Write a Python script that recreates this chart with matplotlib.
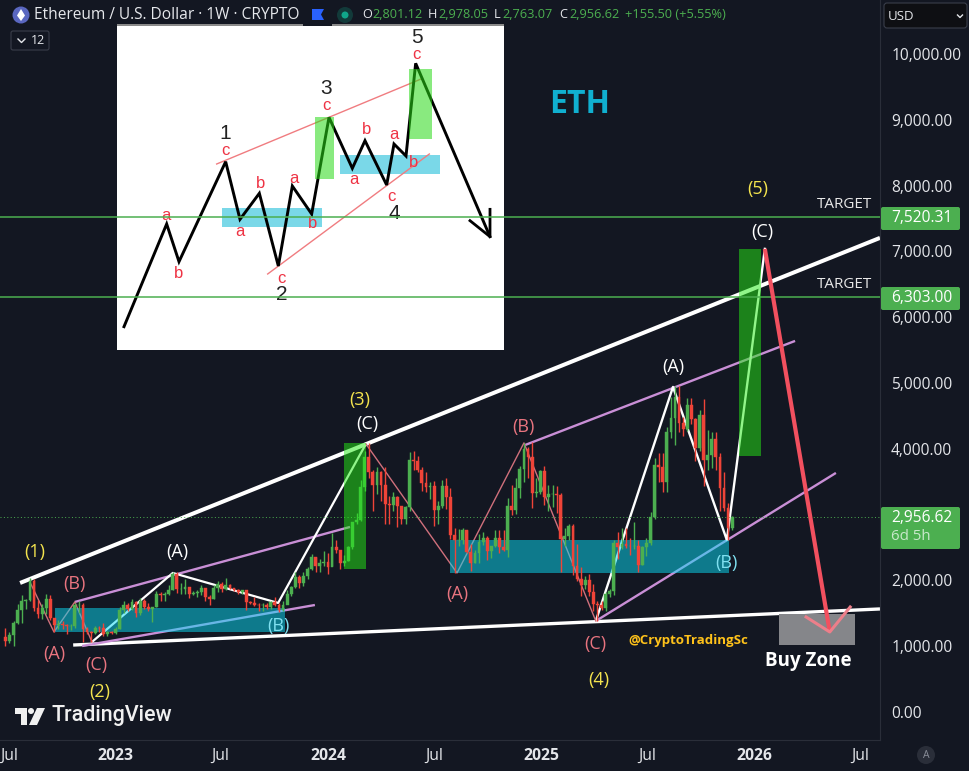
import matplotlib
matplotlib.use('Agg')
import matplotlib.pyplot as plt
from matplotlib.patches import Rectangle, Circle, FancyBboxPatch, Polygon
import pandas as pd

plt.rcParams['font.family'] = ['Open Sans', 'DejaVu Sans']

BG = '#131722'
GREEN = '#4caf50'
RED = '#ef4438'
PINK = '#d0707c'
LILAC = '#c98fd6'
YELLOW = '#f4e44e'
CYAN = '#7fe0f0'
AXIS_TEXT = '#e4e6ea'

# weekly candles, starting week of 2022-06-27 (open = previous close)
first_open = 1143
closes = [
    # 2022
    1075, 1165, 1355, 1550, 1680, 1700, 1985, 1575, 1490, 1575, 1715, 1435, 1315, 1330,
    1320, 1300, 1310, 1620, 1630, 1260, 1215, 1205, 1280, 1275, 1185, 1215, 1200,
    # 2023
    1265, 1550, 1630, 1570, 1665, 1510, 1690, 1590, 1565, 1590, 1800, 1775, 1795,
    1860, 2100, 1865, 1875, 1900, 1800, 1805, 1830, 1890, 1750, 1720, 1880, 1950,
    1865, 1935, 1890, 1855, 1825, 1850, 1670, 1650, 1630, 1620, 1620, 1590, 1670,
    1630, 1555, 1630, 1800, 1900, 2050, 1960, 2065, 2170, 2350, 2220, 2270, 2280,
    # 2024
    2210, 2500, 2455, 2260, 2290, 2500, 2880, 2920, 3420, 3880, 3640, 3455, 3645,
    3450, 3160, 3145, 3260, 3130, 2930, 3120, 3825, 3815, 3675, 3480, 3420, 3430,
    3070, 3130, 3440, 3270, 2690, 2610, 2610, 2760, 2430, 2270, 2420, 2580, 2650, 2440,
    2520, 2645, 2500, 2460, 3125, 3075, 3400, 3700, 3990, 3870, 3330, 3350, 3660,
    # 2025
    3270, 3310, 3320, 3300, 2630, 2670, 2820, 2215, 2020, 1935, 2005, 1820, 1640,
    1620, 1580, 1790, 1835, 2575, 2500, 2550, 2530, 2520, 2530, 2230, 2500, 2570,
    2970, 3750, 3720, 3490, 4260, 4470, 4780, 4390, 4300, 4670, 4450, 4010, 4510,
    3830, 3900, 4150, 3870, 3400, 3100, 2801.12, 2956.62,
]
highs = [
    1280, 1220, 1380, 1640, 1785, 1720, 2030, 2020, 1700, 1640, 1790, 1780, 1400, 1400,
    1380, 1340, 1340, 1660, 1680, 1660, 1290, 1230, 1300, 1300, 1350, 1225, 1230,
    1290, 1590, 1680, 1660, 1715, 1680, 1740, 1720, 1660, 1600, 1840, 1830, 1830,
    1935, 2130, 2120, 1965, 2020, 1905, 1845, 1860, 1930, 1890, 1780, 1930, 1990,
    1970, 2030, 1950, 1890, 1870, 1860, 1860, 1690, 1750, 1650, 1650, 1650, 1680,
    1750, 1650, 1690, 1860, 1910, 2130, 2080, 2130, 2200, 2400, 2350, 2330, 2450,
    2420, 2720, 2610, 2450, 2390, 2530, 2880, 3030, 3520, 3960, 4090, 3680, 3730,
    3660, 3730, 3280, 3350, 3290, 3130, 3130, 3950, 3970, 3890, 3720, 3650, 3500,
    3510, 3200, 3520, 3560, 3400, 2800, 2780, 2800, 2770, 2550, 2460, 2700, 2730, 2670,
    2530, 2770, 2770, 2770, 3250, 3450, 3560, 3740, 4090, 4020, 4110, 3550, 3680,
    3740, 3450, 3450, 3440, 3330, 2800, 2860, 2860, 2550, 2200, 2070, 2100, 1950,
    1690, 1690, 1830, 1870, 2620, 2740, 2790, 2790, 2650, 2880, 2620, 2520, 2640,
    3040, 3860, 3940, 3940, 4330, 4790, 4950, 4960, 4490, 4770, 4770, 4470, 4590,
    4750, 4290, 4250, 4250, 3930, 3650, 3170, 2978.05,
]
lows = [
    1000, 1050, 1010, 1340, 1350, 1560, 1680, 1530, 1430, 1420, 1490, 1400, 1220, 1260,
    1260, 1190, 1250, 1270, 1500, 1070, 1190, 1070, 1180, 1220, 1150, 1150, 1185,
    1190, 1260, 1510, 1530, 1550, 1450, 1470, 1570, 1530, 1370, 1590, 1680, 1690,
    1780, 1850, 1805, 1800, 1800, 1740, 1780, 1745, 1780, 1680, 1630, 1710, 1830,
    1830, 1860, 1875, 1840, 1800, 1800, 1550, 1640, 1610, 1530, 1530, 1570, 1560,
    1610, 1520, 1540, 1640, 1760, 1880, 1890, 1920, 2020, 2160, 2130, 2120, 2220,
    2100, 2220, 2420, 2170, 2220, 2290, 2470, 2850, 2900, 3360, 3550, 3060, 3310,
    3210, 2860, 2850, 3060, 2810, 2860, 2860, 3050, 3680, 3640, 3360, 3350, 3230,
    2820, 2850, 3100, 3090, 2630, 2110, 2520, 2550, 2410, 2150, 2270, 2270, 2540, 2310,
    2340, 2510, 2420, 2450, 2360, 3000, 3010, 3250, 3500, 3560, 3100, 3260, 3320,
    3150, 3050, 3120, 3030, 2120, 2520, 2620, 2080, 1990, 1760, 1870, 1770, 1540,
    1390, 1550, 1530, 1750, 1780, 2320, 2470, 2490, 2380, 2480, 2120, 2230, 2370,
    2540, 2930, 3500, 3350, 3350, 4170, 4060, 4260, 4200, 4270, 4380, 3820, 3960,
    3440, 3680, 3710, 3680, 3060, 3060, 2620, 2763.07,
]

# x positions below are in weeks since 2022-06-27
wedge_top_x, wedge_top_y = [3.6, 214.2], [1961, 7205]
wedge_bottom_x, wedge_bottom_y = [16.6, 214.2], [1018, 1566]
channel_a_up_x, channel_a_up_y = [17.0, 84.4], [1672, 2812]
channel_a_low_x, channel_a_low_y = [18.8, 75.8], [1003, 1626]
channel_b_up_x, channel_b_up_y = [127.3, 193.4], [4058, 5639]
channel_b_low_x, channel_b_low_y = [144.6, 203.4], [1383, 3633]

white_wave_a_x = [21.2, 41.0, 66.8, 88.3]
white_wave_a_y = [1064, 2113, 1657, 4074]
white_wave_b_x = [144.6, 163.5, 176.7, 186.0]
white_wave_b_y = [1383, 4940, 2614, 7038]
pink_wave_a_x = [6.0, 11.9, 17.0, 21.2]
pink_wave_a_y = [1976, 1216, 1672, 1064]
pink_wave_b_x = [88.3, 110.6, 127.0, 144.6]
pink_wave_b_y = [4074, 2113, 4089, 1383]
drop_x, drop_y = [186.0, 201.9], [7038, 1216]
drop_head_x, drop_head_y = [196.1, 201.9, 206.9], [1444, 1216, 1596]

# (x0, x1, price0, price1)
teal_zones = [(12.1, 68.5, 1216, 1581), (108.9, 177.2, 2113, 2614)]
green_zones = [(82.9, 88.3, 2174, 4089), (179.7, 185.0, 3891, 7038)]
buy_zone = (189.5, 208.1, 1018, 1490)

target_prices = [7520.31, 6303.00]
last_price = 2956.62

wave_labels = [
    ('(1)', 7.2, 2432, YELLOW), ('(2)', 23.2, 304, YELLOW), ('(3)', 86.8, 4742, YELLOW),
    ('(4)', 145.4, 486, YELLOW), ('(5)', 184.3, 7950, YELLOW),
    ('(B)', 17.0, 1946, '#e8747f'), ('(A)', 11.9, 882, '#e8747f'), ('(C)', 22.2, 714, '#e8747f'),
    ('(A)', 110.6, 1794, '#e8747f'), ('(B)', 126.8, 4332, '#e8747f'), ('(C)', 144.4, 1034, '#e8747f'),
    ('(A)', 42.0, 2432, 'white'), ('(C)', 88.6, 4378, 'white'),
    ('(A)', 163.5, 5244, 'white'), ('(C)', 185.3, 7296, 'white'),
    ('(B)', 66.8, 1307, CYAN), ('(B)', 176.5, 2265, CYAN),
]

price_ticks = [0, 1000, 2000, 3000, 4000, 5000, 6000, 7000, 8000, 9000, 10000]
time_tick_dates = ['2022-07-04', '2023-01-01', '2023-07-01', '2024-01-01', '2024-07-01',
                   '2025-01-01', '2025-07-01', '2026-01-01', '2026-07-01']
time_tick_labels = ['Jul', '2023', 'Jul', '2024', 'Jul', '2025', 'Jul', '2026', 'Jul']

# small elliott wave picture pasted on the chart, in its own units
sketch_x = [42, 170, 207, 347, 390, 448, 505, 547, 605, 657, 727, 765, 830, 852, 888, 917, 1140]
sketch_y = [920, 612, 725, 425, 598, 520, 738, 498, 582, 292, 445, 362, 495, 372, 408, 130, 650]
sketch_head_x, sketch_head_y = [1080, 1140, 1140], [602, 650, 568]
sketch_lines = [([320, 938], [432, 175]), ([473, 958], [762, 402])]
sketch_green = [(615, 672, 292, 478), (897, 966, 148, 356)]
sketch_cyan = [(336, 636, 565, 620), (690, 990, 405, 462)]
sketch_red_text = [('a', 167, 585), ('b', 207, 760), ('c', 345, 392), ('a', 390, 635), ('b', 453, 490),
                   ('a', 551, 475), ('b', 609, 612), ('c', 515, 775), ('c', 649, 257), ('a', 731, 478),
                   ('b', 771, 328), ('a', 852, 345), ('c', 843, 530), ('b', 910, 428), ('c', 919, 103)]
sketch_black_text = [('1', 347, 340), ('2', 515, 825), ('3', 647, 205), ('4', 852, 580), ('5', 922, 52)]

start = pd.Timestamp('2022-06-27')
weeks = list(range(len(closes)))
opens = [first_open] + closes[:-1]
candle_colors = [GREEN if c >= o else RED for o, c in zip(opens, closes)]

fig = plt.figure(figsize=(9.69, 7.71), dpi=100, facecolor=BG)

# inset picture, sits under the main axes so the target lines cross it
sk = fig.add_axes([117 / 969, 1 - 350 / 771, 387 / 969, 324 / 771], zorder=1)
sk.set_facecolor('white')
sk.set_xlim(21, 1182)
sk.set_ylim(990, 18)
sk.set_xticks([])
sk.set_yticks([])
for s in sk.spines.values():
    s.set_visible(False)
for x0, x1, y0, y1 in sketch_cyan:
    sk.add_patch(Rectangle((x0, y0), x1 - x0, y1 - y0, color='#7ad8e8', lw=0, zorder=1))
for xs, ys in sketch_lines:
    sk.plot(xs, ys, color='#f07c80', lw=1, zorder=2)
sk.plot(sketch_x, sketch_y, color='black', lw=2.1, zorder=2, solid_joinstyle='miter')
sk.plot(sketch_head_x, sketch_head_y, color='black', lw=2, zorder=2)
for x0, x1, y0, y1 in sketch_green:
    sk.add_patch(Rectangle((x0, y0), x1 - x0, y1 - y0, color='#29d916', alpha=0.55, lw=0, zorder=3))
for t, x, y in sketch_red_text:
    sk.text(x, y, t, color='#ee3344', fontsize=12, family='Liberation Sans', ha='center', va='center', zorder=4)
for t, x, y in sketch_black_text:
    sk.text(x, y, t, color='#222222', fontsize=15, family='Liberation Sans', ha='center', va='center', zorder=4)

# main chart
ax = fig.add_axes([0, 31 / 771, 880 / 969, 740 / 771], zorder=2)
ax.patch.set_visible(False)
ax.set_xlim(-1.32, 214.2)
ax.set_ylim(-425.5, 10820)

ax.plot(wedge_top_x, wedge_top_y, color='white', lw=2.9, zorder=1, solid_capstyle='butt')
ax.plot(wedge_bottom_x, wedge_bottom_y, color='white', lw=2.4, zorder=1, solid_capstyle='butt')
for xs, ys in [(channel_a_up_x, channel_a_up_y), (channel_a_low_x, channel_a_low_y),
               (channel_b_up_x, channel_b_up_y), (channel_b_low_x, channel_b_low_y)]:
    ax.plot(xs, ys, color=LILAC, lw=1.7, zorder=1.2, solid_capstyle='butt')
ax.plot(white_wave_a_x, white_wave_a_y, color='white', lw=1.6, zorder=1.3)
ax.plot(white_wave_b_x, white_wave_b_y, color='white', lw=1.7, zorder=1.3)
ax.plot(pink_wave_a_x, pink_wave_a_y, color=PINK, lw=1, zorder=1.3)
ax.plot(pink_wave_b_x, pink_wave_b_y, color=PINK, lw=1, zorder=1.3)

for x0, x1, y0, y1 in teal_zones:
    ax.add_patch(Rectangle((x0, y0), x1 - x0, y1 - y0, color='#0bddf6', alpha=0.5, lw=0, zorder=2))

ax.vlines(weeks, lows, highs, colors=candle_colors, lw=1.0, zorder=3)
ax.bar(weeks, [abs(c - o) for o, c in zip(opens, closes)], bottom=[min(o, c) for o, c in zip(opens, closes)],
       width=0.68, color=candle_colors, edgecolor=candle_colors, lw=0.3, zorder=3)

for x0, x1, y0, y1 in green_zones:
    ax.add_patch(Rectangle((x0, y0), x1 - x0, y1 - y0, color='#25ed16', alpha=0.5, lw=0, zorder=4))

x0, x1, y0, y1 = buy_zone
ax.add_patch(Rectangle((x0, y0), x1 - x0, y1 - y0, color='#85868a', lw=0, zorder=2))

for p in target_prices:
    ax.axhline(p, color=GREEN, lw=1.1, zorder=5)
ax.axhline(last_price, color=GREEN, lw=0.7, ls=(0, (1, 2.5)), zorder=2.5)

ax.plot(drop_x, drop_y, color='#f2505f', lw=3, zorder=5, solid_capstyle='butt')
ax.plot(drop_head_x, drop_head_y, color='#ec7f8a', lw=2.2, zorder=5)

for t, x, y, c in wave_labels:
    ax.text(x, y, t, color=c, fontsize=13, fontweight='medium', ha='center', va='center', zorder=6)
ax.text(140.7, 9226, 'ETH', color='#10b0d0', fontsize=23, fontweight='bold', ha='center', va='center', zorder=6)
ax.text(196.6, 775, 'Buy Zone', color='white', fontsize=13.5, fontweight='bold', ha='center', va='center', zorder=6)
ax.text(167.2, 1094, '@CryptoTradingSc', color='#ffc21a', fontsize=9.5, fontweight='bold', ha='center', va='center', zorder=6)
for p in [7706, 6490]:
    ax.text(205.4, p, 'TARGET', color='#e8e8e8', fontsize=11, ha='center', va='center', zorder=6)

ax.yaxis.tick_right()
ax.set_yticks(price_ticks)
ax.set_yticklabels([f'{v:,.2f}' for v in price_ticks])
ax.tick_params(axis='y', length=0, pad=8, labelsize=11.2, labelcolor=AXIS_TEXT)
ax.set_xticks([(pd.Timestamp(d) - start).days / 7 for d in time_tick_dates])
ax.set_xticklabels(time_tick_labels)
ax.tick_params(axis='x', length=0, pad=6, labelsize=11.3, labelcolor=AXIS_TEXT)
for lab in ax.get_xticklabels():
    if lab.get_text() != 'Jul':
        lab.set_fontweight('bold')
for name, s in ax.spines.items():
    s.set_visible(name in ('right', 'bottom'))
    s.set_color('#2a2e39')

# toolbar bits, price tags and logo in screen pixels
ui = fig.add_axes([0, 0, 1, 1], zorder=5)
ui.set_xlim(0, 969)
ui.set_ylim(771, 0)
ui.axis('off')

ui.add_patch(Rectangle((117, 24), 186, 2, color='#8a8a8a', lw=0))
ui.add_patch(Rectangle((332, 24), 172, 2, color='#8a8a8a', lw=0))
ui.add_patch(Circle((21, 15), 8.5, color='#5a67c0', lw=0))
ui.add_patch(Polygon([(21, 9), (25, 15.5), (21, 21), (17, 15.5)], color='white', lw=0))
ui.text(34, 15, 'Ethereum / U.S. Dollar · 1W · CRYPTO', color='#e6e8ec', fontsize=11.2, va='center')
ui.add_patch(Polygon([(312, 9), (324, 9), (321, 14.5), (324, 20), (312, 20)], color='#2962ff', lw=0))
ui.add_patch(Circle((345, 15), 8, color='#123a3a', lw=0))
ui.add_patch(Circle((345, 15), 3.5, color='#10a58a', lw=0))
for t, x, c in [('O', 362, AXIS_TEXT), ('2,801.12', 372, GREEN), ('H', 428, AXIS_TEXT), ('2,978.05', 438, GREEN),
                ('L', 494, AXIS_TEXT), ('2,763.07', 502, GREEN), ('C', 559, AXIS_TEXT), ('2,956.62', 569, GREEN),
                ('+155.50 (+5.55%)', 625, GREEN)]:
    ui.text(x, 15, t, color=c, fontsize=9.2, va='center')

ui.add_patch(FancyBboxPatch((11, 31), 38, 19, boxstyle='round,pad=0,rounding_size=2', fc=BG, ec='#3a3e4a', lw=0.8))
ui.plot([18, 21.5, 25], [39, 42.5, 39], color=AXIS_TEXT, lw=1)
ui.text(38, 41, '12', color=AXIS_TEXT, fontsize=9, ha='center', va='center')

ui.add_patch(FancyBboxPatch((884, 3), 83, 25, boxstyle='round,pad=0,rounding_size=3', fc='#0e0f13', ec='#3a3e4a', lw=0.8))
ui.text(888, 16, 'USD', color=AXIS_TEXT, fontsize=9.5, va='center')
ui.plot([957.5, 960, 962.5], [15, 17.5, 15], color=AXIS_TEXT, lw=1)

for t, y0, y1 in [('7,520.31', 207, 230), ('6,303.00', 287, 310)]:
    ui.add_patch(FancyBboxPatch((881, y0), 79, y1 - y0, boxstyle='round,pad=0,rounding_size=2', fc=GREEN, ec='none'))
    ui.text(891, (y0 + y1) / 2, t, color='white', fontsize=11.2, va='center')
ui.add_patch(FancyBboxPatch((881, 507), 79, 42, boxstyle='round,pad=0,rounding_size=2', fc=GREEN, ec='none'))
ui.text(891, 518, '2,956.62', color='white', fontsize=11.2, va='center')
ui.text(891, 537, '6d 5h', color='#c8e8ca', fontsize=10.8, va='center')

ui.add_patch(Circle((926, 755), 9, color='#2a2e39', lw=0))
ui.text(926, 755.5, 'A', color='#8a8e99', fontsize=7.5, ha='center', va='center')

ui.add_patch(Polygon([(15, 708), (27, 708), (27, 725), (21, 725), (21, 714), (15, 714)], color='#f0f0f0', lw=0))
ui.add_patch(Circle((31, 711), 3, color='#f0f0f0', lw=0))
ui.add_patch(Polygon([(37, 708), (45, 708), (37, 725), (29, 725)], color='#f0f0f0', lw=0))
ui.text(52, 716, 'TradingView', color='#f0f0f0', fontsize=15.5, family='Roboto', fontweight='medium', va='center')

fig.savefig('out.png', dpi=100, facecolor=BG)
